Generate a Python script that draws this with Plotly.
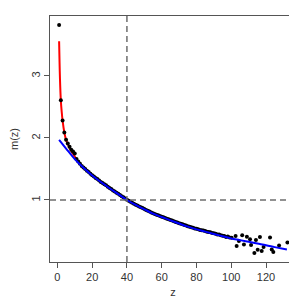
import plotly.graph_objects as go

# black points: z and m(z)
pt_z = list(range(1, 100)) + [100.2, 102.5, 103.1, 104.4, 106.3, 107.3, 109.0, 110.8, 111.4,
                              113.3, 114.2, 115.2, 116.5, 117.5, 118.6, 122.3, 123.3, 124.2,
                              127.5, 132.3]
pt_m = [3.82, 2.61, 2.28, 2.09, 1.97, 1.91, 1.86, 1.81, 1.78, 1.75,
        1.66, 1.62, 1.585, 1.55, 1.525, 1.50, 1.47, 1.452, 1.425, 1.40,
        1.38, 1.355, 1.338, 1.315, 1.292, 1.275, 1.252, 1.236, 1.212, 1.195,
        1.176, 1.155, 1.138, 1.118, 1.10, 1.08, 1.06, 1.043, 1.022, 1.004,
        0.988, 0.972, 0.956, 0.94, 0.925, 0.91, 0.897, 0.882, 0.869, 0.855,
        0.84, 0.828, 0.813, 0.80, 0.786, 0.774, 0.763, 0.752, 0.741, 0.73,
        0.72, 0.71, 0.698, 0.689, 0.678, 0.668, 0.657, 0.646, 0.637, 0.626,
        0.616, 0.607, 0.596, 0.588, 0.577, 0.568, 0.56, 0.552, 0.541, 0.535,
        0.528, 0.518, 0.512, 0.508, 0.498, 0.487, 0.485, 0.478, 0.466, 0.462,
        0.455, 0.444, 0.442, 0.43, 0.425, 0.418, 0.405, 0.41, 0.395,
        0.392, 0.419, 0.258, 0.339, 0.43, 0.284, 0.408, 0.365, 0.274,
        0.145, 0.355, 0.198, 0.403, 0.177, 0.242, 0.397, 0.203, 0.161,
        0.268, 0.316]

# red curve (near z = 0)
red_z = [1, 1.25, 1.5, 2, 2.5, 3, 4, 5, 6, 7, 8, 9, 10, 11]
red_m = [3.56, 3.22, 2.95, 2.6, 2.42, 2.28, 2.09, 1.97, 1.90, 1.84, 1.79, 1.745, 1.70, 1.645]

# blue curve
blue_z = [1, 5, 10, 15, 20, 25, 30, 35, 40, 45, 50, 55, 60, 65, 70, 75, 80,
          85, 90, 95, 100, 105, 110, 115, 120, 125, 132]
blue_m = [1.97, 1.83, 1.66, 1.52, 1.395, 1.29, 1.19, 1.095, 1.0, 0.92, 0.85, 0.78,
          0.725, 0.672, 0.62, 0.57, 0.526, 0.49, 0.452, 0.415, 0.38, 0.353, 0.325,
          0.297, 0.27, 0.24, 0.2]

x_ticks = [0, 20, 40, 60, 80, 100, 120]
y_ticks = [1, 2, 3]
z_cut = 40
m_cut = 1

font_fam = "Liberation Sans, Arial"
fig = go.Figure()
fig.add_trace(go.Scatter(x=red_z, y=red_m, mode="lines", line=dict(color="red", width=2, shape="spline"),
                         hoverinfo="skip"))
fig.add_trace(go.Scatter(x=pt_z, y=pt_m, mode="markers",
                         marker=dict(color="black", size=4, line=dict(width=0))))
fig.add_trace(go.Scatter(x=blue_z, y=blue_m, mode="lines", line=dict(color="blue", width=2, shape="spline")))

dash_style = dict(color="#6e6e6e", width=1.5, dash="6px,4px")
fig.add_shape(type="line", xref="x", yref="paper", x0=z_cut, x1=z_cut, y0=0, y1=1, line=dash_style)
fig.add_shape(type="line", xref="paper", yref="y", x0=0, x1=1, y0=m_cut, y1=m_cut, line=dash_style)

axis_common = dict(showgrid=False, zeroline=False, showline=True, mirror=True, automargin=False,
                   linecolor="#555555", linewidth=1, ticks="outside", ticklen=5,
                   tickcolor="#555555", tickfont=dict(family=font_fam, size=11, color="#333333"))
fig.update_xaxes(range=[-4.24, 137.24], tickvals=x_ticks, title=dict(text="z", standoff=6,
                 font=dict(family=font_fam, size=11, color="#333333")), **axis_common)
fig.update_yaxes(range=[0.0, 3.967], tickvals=y_ticks, tickangle=-90,
                 title=dict(text="m(z)", standoff=8,
                 font=dict(family=font_fam, size=11, color="#333333")), **axis_common)

fig.update_layout(width=297, height=297, margin=dict(l=42, r=9, t=8, b=43),
                  plot_bgcolor="white", paper_bgcolor="white", showlegend=False)
fig.write_html("out.html")
